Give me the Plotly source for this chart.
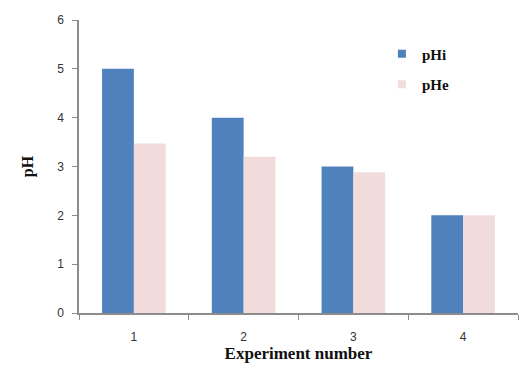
import plotly.graph_objects as go

categories = ["1", "2", "3", "4"]
phi = [5.0, 4.0, 3.0, 2.0]
phe = [3.47, 3.2, 2.88, 2.0]
y_ticks = [0, 1, 2, 3, 4, 5, 6]
blue = "#4F81BD"
pink = "#F2DCDB"

fig = go.Figure()
fig.add_trace(go.Bar(x=categories, y=phi, name="pHi", marker=dict(color=blue, line=dict(width=0)), showlegend=False))
fig.add_trace(go.Bar(x=categories, y=phe, name="pHe", marker=dict(color=pink, line=dict(width=0)), showlegend=False))
# legend entries with small square markers
fig.add_trace(go.Scatter(x=[None], y=[None], mode="markers", name="<b>pHi</b>",
                         marker=dict(symbol="square", size=8, color=blue), legendgroup="a"))
fig.add_trace(go.Scatter(x=[None], y=[None], mode="markers", name="<b>pHe</b>",
                         marker=dict(symbol="square", size=8, color=pink), legendgroup="b"))

fig.update_layout(
    width=530, height=372,
    margin=dict(l=79, r=12, t=20, b=59),
    paper_bgcolor="white", plot_bgcolor="white",
    barmode="group", bargap=0.42, bargroupgap=0,
    showlegend=True,
    legend=dict(x=0.69, y=0.94, xanchor="left", yanchor="top",
                font=dict(family="Liberation Serif", size=15, color="#111"),
                tracegroupgap=8, itemwidth=30, bgcolor="rgba(0,0,0,0)"),
    xaxis=dict(type="category", showline=True, linecolor="#8c8c8c", linewidth=1.5,
               ticks="outside", tickson="boundaries", ticklen=5, tickcolor="#8c8c8c",
               ticklabelstandoff=12,
               tickfont=dict(family="Liberation Sans", size=12, color="#333"),
               title=dict(text="<b>Experiment number</b>", standoff=0,
                          font=dict(family="Liberation Serif", size=17, color="#111")),
               showgrid=False),
    yaxis=dict(range=[0, 6], tickvals=y_ticks, showline=True, linecolor="#8c8c8c", linewidth=1.5,
               ticks="outside", ticklen=5, tickcolor="#8c8c8c",
               ticklabelstandoff=6,
               tickfont=dict(family="Liberation Sans", size=12, color="#333"),
               title=dict(text="<b>pH</b>", standoff=20,
                          font=dict(family="Liberation Serif", size=16, color="#111")),
               showgrid=False, zeroline=False),
)
fig.write_html("out.html", config={"displayModeBar": False},
               post_script="document.body.style.margin='0';")
